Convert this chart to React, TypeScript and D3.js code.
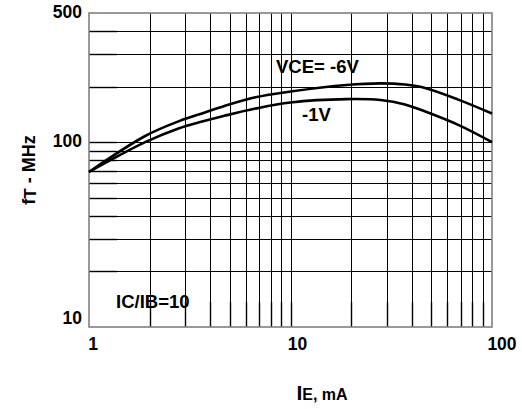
import * as d3 from 'd3';

// fT vs IE (log-log)
const ieVce6 = [1, 1.9, 2.8, 3.7, 4.7, 6.7, 10, 19, 28, 37, 47, 68, 100];
const ftVce6 = [69, 108, 130, 144, 157, 175, 188, 204, 208, 205, 196, 170, 143];
const ieVce1 = [1, 1.9, 2.8, 3.6, 4.7, 6.7, 10, 19, 28, 37, 47, 68, 100];
const ftVce1 = [69, 100, 119, 129, 139, 152, 164, 171, 169, 160, 146, 124, 100];

const xGrid = [2, 3, 4, 5, 6, 7, 8, 9, 10, 20, 30, 40, 50, 60, 70, 80, 90];
const yGrid = [20, 30, 40, 50, 60, 70, 80, 90, 100, 200, 300, 400];
const xTickLabels = [1, 10, 100];
const yTickLabels = [10, 100, 500];

const W = 522;
const H = 409;
const M = { left: 89, right: 492, top: 13, bottom: 327 };
const FONT = '"Liberation Sans", Arial, sans-serif';

export default function App() {
  const x = d3.scaleLog().domain([1, 100]).range([M.left, M.right]);
  const y = d3.scaleLog().domain([10, 500]).range([M.bottom, M.top]);

  const line = d3
    .line<number>()
    .x((_d, i) => x(ieVce6[i]))
    .y(d => y(d))
    .curve(d3.curveCatmullRom);
  const line1 = d3
    .line<number>()
    .x((_d, i) => x(ieVce1[i]))
    .y(d => y(d))
    .curve(d3.curveCatmullRom);

  const snap = (v: number) => Math.round(v) + 0.5;

  return (
    <svg
      width={W}
      height={H}
      style={{ position: 'absolute', left: 0, top: 0, background: '#fff' }}
      fontFamily={FONT}
      fontWeight="bold"
    >
      {/* grid */}
      <g stroke="#000" strokeWidth={1}>
        {xGrid.map(v => (
          <line key={'gx' + v} x1={snap(x(v))} x2={snap(x(v))} y1={M.top} y2={M.bottom} />
        ))}
        {yGrid.map(v => (
          <line key={'gy' + v} x1={M.left} x2={M.right} y1={snap(y(v))} y2={snap(y(v))} />
        ))}
      </g>
      {/* tick marks */}
      <g stroke="#000" strokeWidth={1.4}>
        {xGrid.map(v => (
          <line key={'tx' + v} x1={snap(x(v))} x2={snap(x(v))} y1={M.bottom - 25} y2={M.bottom} />
        ))}
        {yGrid.map(v => (
          <line key={'ty' + v} x1={M.left} x2={M.left + 28} y1={snap(y(v))} y2={snap(y(v))} />
        ))}
      </g>
      {/* frame */}
      <rect
        x={M.left}
        y={M.top}
        width={M.right - M.left}
        height={M.bottom - M.top}
        fill="none"
        stroke="#808080"
        strokeWidth={1.6}
      />

      {/* curves */}
      <path d={line(ftVce6) ?? ''} fill="none" stroke="#000" strokeWidth={2.6} />
      <path d={line1(ftVce1) ?? ''} fill="none" stroke="#000" strokeWidth={2.6} />

      {/* tick labels */}
      <g fontSize={17.5} fill="#000">
        {yTickLabels.map((v, i) => (
          <text key={'yl' + v} x={M.left - 7} y={y(v) + [-3, 5, 5][i]} textAnchor="end">
            {v}
          </text>
        ))}
        {xTickLabels.map((v, i) => (
          <text key={'xl' + v} x={x(v) + [4, 7, 10][i]} y={350} textAnchor="middle">
            {v}
          </text>
        ))}
      </g>

      {/* annotations */}
      <g fontSize={18.5} fill="#000">
        <text x={276} y={73}>VCE= -6V</text>
        <text x={302} y={121}>-1V</text>
        <text x={116} y={308}>IC/IB=10</text>
      </g>

      {/* axis titles */}
      <text transform="translate(35,170) rotate(-90)" textAnchor="middle" fontSize={18}>
        <tspan>f</tspan>
        <tspan fontSize={17} dy={1}>T</tspan>
        <tspan dy={-1}> - MHz</tspan>
      </text>
      <text x={322} y={400} textAnchor="middle">
        <tspan fontSize={21}>I</tspan>
        <tspan fontSize={16}>E, mA</tspan>
      </text>
    </svg>
  );
}
